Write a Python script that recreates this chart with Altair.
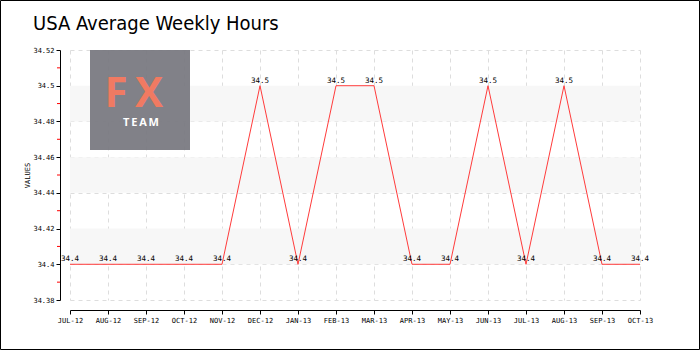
import altair as alt
import pandas as pd

months = ["JUL-12", "AUG-12", "SEP-12", "OCT-12", "NOV-12", "DEC-12", "JAN-13", "FEB-13",
          "MAR-13", "APR-13", "MAY-13", "JUN-13", "JUL-13", "AUG-13", "SEP-13", "OCT-13"]
values = [34.4, 34.4, 34.4, 34.4, 34.4, 34.5, 34.4, 34.5,
          34.5, 34.4, 34.4, 34.5, 34.4, 34.5, 34.4, 34.4]
y_ticks = [34.38, 34.40, 34.42, 34.44, 34.46, 34.48, 34.50, 34.52]
minor_ticks = [34.39, 34.41, 34.43, 34.45, 34.47, 34.49, 34.51]
band_lo = [34.40, 34.44, 34.48]
band_hi = [34.42, 34.46, 34.50]
title_text = ["USA Average Weekly Hours"]

FONT = "DejaVu Sans Mono"
W, H = 570, 250

df = pd.DataFrame({"month": months, "value": values, "label": [f"{v:g}" for v in values]})
bands = pd.DataFrame({"lo": band_lo, "hi": band_hi})
minors = pd.DataFrame({"v": minor_ticks})

xaxis = alt.Axis(title=None, labelAngle=0, labelFont=FONT, labelFontSize=7,
                 labelColor="#000", offset=10, grid=True, gridDash=[4, 4],
                 gridColor="#dddddd", domainColor="#000", tickColor="#000",
                 tickSize=4, labelPadding=2, labelOverlap=False)
xenc = alt.X("month:O", sort=months, scale=alt.Scale(type="point", padding=0), axis=xaxis)
yscale = alt.Scale(domain=[34.38, 34.52], nice=False, zero=False)
yaxis = alt.Axis(title="VALUES", values=y_ticks, format="~g", labelFont=FONT,
                 labelFontSize=7, labelColor="#000", titleFont=FONT,
                 titleFontSize=7, titleFontWeight="normal", titleColor="#000",
                 offset=10, grid=True, gridDash=[4, 4], gridColor="#dddddd",
                 domainColor="#000", tickColor="#000", tickSize=4,
                 titlePadding=2, labelOverlap=False, labelPadding=2)

band_layer = alt.Chart(bands).mark_rect(color="#f7f7f7").encode(
    y=alt.Y("lo:Q", scale=yscale, axis=yaxis),
    y2="hi:Q",
    x=alt.value(0), x2=alt.value(W),
)

minor_layer = alt.Chart(minors).mark_rule(color="#ff0000", strokeWidth=1).encode(
    y=alt.Y("v:Q", scale=yscale, axis=yaxis), x=alt.value(-13), x2=alt.value(-10))

logo_rect = alt.Chart(pd.DataFrame({"a": [0]})).mark_rect(color="#77777f", opacity=0.93).encode(
    x=alt.value(20), x2=alt.value(120), y=alt.value(0), y2=alt.value(100))
logo_f = alt.Chart(pd.DataFrame({"t": ["F"]})).mark_text(
    font="Open Sans", fontSize=42, fontWeight="bold", color="#f07a62", align="center",
    baseline="alphabetic").encode(x=alt.value(46), y=alt.value(57), text="t:N")
logo_x = alt.Chart(pd.DataFrame({"t": ["X"]})).mark_text(
    font="Open Sans", fontSize=42, fontWeight="bold", color="#f07a62", align="center",
    baseline="alphabetic").encode(x=alt.value(79), y=alt.value(57), text="t:N")
logo_team = alt.Chart(pd.DataFrame({"t": ["T\u2009E\u2009A\u2009M"]})).mark_text(
    font="Open Sans", fontSize=11, fontWeight="bold", color="#ffffff", align="center",
    baseline="alphabetic").encode(x=alt.value(71), y=alt.value(76), text="t:N")

line = alt.Chart(df).mark_line(color="#ff3b3b", strokeWidth=1).encode(
    x=xenc, y=alt.Y("value:Q", scale=yscale, axis=yaxis))
labels = alt.Chart(df).mark_text(font=FONT, fontSize=7.5, color="#000", dy=-3,
                                 baseline="alphabetic").encode(
    x=xenc, y=alt.Y("value:Q", scale=yscale, axis=yaxis), text="label:N")

title = alt.Chart(pd.DataFrame({"t": title_text})).mark_text(
    font="DejaVu Sans Condensed", fontSize=20, color="#000", align="left",
    baseline="alphabetic").encode(x=alt.value(-37), y=alt.value(-20), text="t:N")

border = alt.Chart(pd.DataFrame({"a": [0]})).mark_rect(
    fill=None, stroke="#000", strokeWidth=1).encode(
    x=alt.value(-69.5), x2=alt.value(629.5), y=alt.value(-49.5), y2=alt.value(299.5))

chart = alt.layer(band_layer, minor_layer, logo_rect, logo_f, logo_x, logo_team, line, labels,
                  title, border).properties(
    width=W, height=H,
    autosize=alt.AutoSizeParams(type="none"),
    padding={"left": 70, "top": 50, "right": 60, "bottom": 50},
    background="#ffffff",
).configure_view(stroke=None).configure_axisY(labelOverlap=False)

chart.save("out.html", embed_options={"renderer": "svg", "actions": False})
